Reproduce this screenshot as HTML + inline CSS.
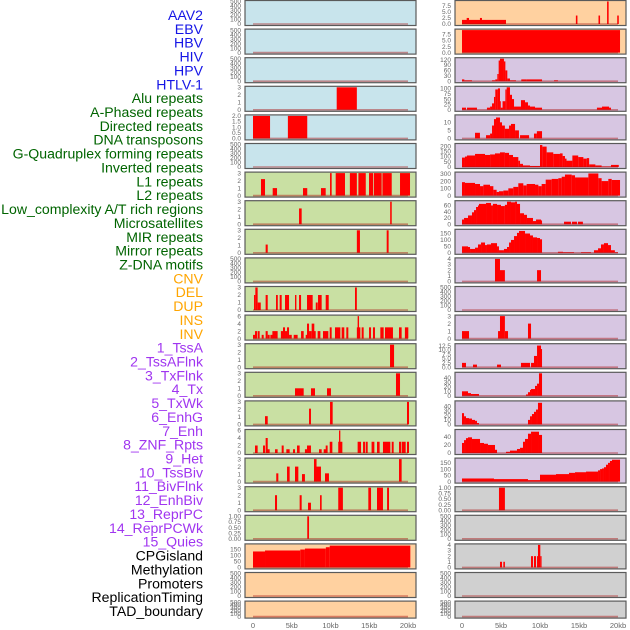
<!DOCTYPE html>
<html><head><meta charset="utf-8">
<style>
html,body{margin:0;padding:0;background:#fff;}
svg{display:block;font-family:"Liberation Sans",sans-serif;}
</style></head>
<body>
<svg id="chart" width="630" height="630" viewBox="0 0 630 630" xmlns="http://www.w3.org/2000/svg">
<g id="labels"></g>
<g id="panels"></g>
<g id="xaxis"></g>
</svg>
<script>
const labelNames = ["AAV2","EBV","HBV","HIV","HPV","HTLV-1","Alu repeats","A-Phased repeats","Directed repeats","DNA transposons","G-Quadruplex forming repeats","Inverted repeats","L1 repeats","L2 repeats","Low_complexity A/T rich regions","Microsatellites","MIR repeats","Mirror repeats","Z-DNA motifs","CNV","DEL","DUP","INS","INV","1_TssA","2_TssAFlnk","3_TxFlnk","4_Tx","5_TxWk","6_EnhG","7_Enh","8_ZNF_Rpts","9_Het","10_TssBiv","11_BivFlnk","12_EnhBiv","13_ReprPC","14_ReprPCWk","15_Quies","CPGisland","Methylation","Promoters","ReplicationTiming","TAD_boundary"];
const labelGroups = [6,13,5,15,5];
const groupColors = ["#1515e6","#006400","#ffa500","#a035f0","#000000"];

const T500 = [0,100,200,300,400,500];
const T3 = [0,1,2,3];
const T2 = [0,0.5,1,1.5,2];
const T6 = [0,2,4,6];
const T1 = [0,0.25,0.5,0.75,1];
const T4 = [0,1,2,3,4];
const T75 = [0,2.5,5,7.5];
const T120 = [0,30,60,90,120];
const T100 = [0,25,50,75,100];
const T10 = [0,5,10];
const T200 = [0,50,100,150,200];
const T300 = [0,100,200,300];
const T60 = [0,20,40,60];
const T150 = [0,50,100,150];
const T125 = [0,2.5,5,7.5,10,12.5];
const T40 = [0,10,20,30,40];
const T40b = [0,20,40];

const L_HIV = [[10.8,13.4,3]];
const L_HPV = [[0,2.2,2],[4.5,7.0,2]];
const L_row7 = [[1.03,1.55,2.2],[2.54,3.1,1],[6.45,7.0,1],[8.77,9.38,1],[9.94,10.15,3],[10.67,11.87,3],[12.5,13.4,3],[13.6,14.55,3],[14.97,15.5,3],[15.6,16.6,3],[16.7,17.9,3],[18.97,20.26,3]];
const L_row8 = [[5.94,6.28,2.1],[17.7,17.9,3]];
const L_row9 = [[1.63,1.9,1.1],[13.4,13.8,3],[17.25,17.5,3]];
const L_row11 = [[0.13,0.3,2],[0.3,0.6,3],[0.6,1.0,1],[1.63,1.9,2],[2.97,3.2,2],[3.44,3.7,2],[4.13,4.65,2],[5.42,5.6,2],[5.94,6.2,2],[6.97,7.7,2],[8.1,8.35,1],[8.39,8.86,2],[9.38,9.77,2],[13.16,13.4,3]];
const L_row12 = [[0,0.34,1],[0.26,0.52,2],[0.6,0.86,2],[1.12,1.38,1],[1.63,1.9,2],[1.9,2.15,1],[2.24,2.58,1],[2.5,3.18,2],[3.6,3.96,2],[3.87,4.13,3],[4.13,4.39,2],[4.39,4.65,3],[4.65,5.0,1],[5.25,5.76,1],[6.2,6.54,2],[6.8,7.05,1],[6.97,7.23,4],[7.23,7.57,2],[7.57,7.91,4],[7.83,8.09,2],[8.34,8.69,2],[9.03,9.72,2],[9.9,10.15,3],[10.58,11.27,3],[11.44,11.78,3],[12.04,12.3,3],[13.4,13.85,3],[13.5,13.68,6],[14.02,14.28,3],[14.97,15.23,3],[15.48,15.74,3],[16.43,16.86,3],[17.03,18.06,3],[18.84,19.18,3],[19.6,20.04,3]];
const L_row13 = [[17.68,18.2,3]];
const L_row14 = [[5.42,6.54,1],[7.48,8.0,1],[9.55,10.06,1],[18.45,18.97,3]];
const L_row15 = [[1.55,1.9,1.1],[7.23,7.48,2.1],[9.94,10.28,3],[19.87,20.13,3]];
const L_row16 = [[0.26,0.6,2],[1.29,1.55,2],[1.63,1.9,4],[1.8,2.15,1],[2.84,3.18,1],[3.7,3.96,2],[4.3,4.73,1],[5.16,5.42,1],[5.68,6.02,2],[6.7,6.97,1],[6.97,7.48,2],[8.52,8.86,1],[9.12,9.46,1],[9.38,9.63,2],[9.9,10.24,3],[11.1,11.27,6],[11.0,11.53,3],[13.5,13.94,3],[14.2,14.45,3],[14.54,14.8,3],[15.3,15.66,3],[16.0,16.34,3],[16.77,17.72,3],[17.9,18.15,3],[18.84,19.1,3],[19.18,19.7,3],[19.87,20.13,3]];
const L_row17 = [[3.0,3.27,1.1],[4.39,4.73,2],[5.42,5.85,2],[6.32,6.7,1],[7.87,8.2,3],[8.13,8.77,2],[9.29,9.8,1.1],[18.84,19.18,3]];
const L_row18 = [[2.84,3.1,2],[6.02,6.28,2],[7.1,7.48,1],[8.65,8.86,2],[11.0,11.6,3],[14.88,15.23,3],[16.0,16.77,3],[17.3,17.55,3]];
const L_row19 = [[7.0,7.23,1]];
const L_row20 = [[0,1.55,131],[1.55,6.1,139],[6.1,6.7,147],[6.7,9.4,155],[9.4,9.9,166],[9.9,20.3,179]];

const R_row1 = [[0,5.64,1.7],[0.6,0.9,2.5],[2.3,2.56,2.5],[14.6,14.8,3.5],[17.5,17.7,3.5],[18.6,18.8,9.3],[19.9,20.1,3.5]];
const R_row2 = [[0,20.26,9.3]];
const R_row3 = [[0,0.3,10],[0.3,1.28,5],[3.85,4.27,5],[4.27,4.53,10],[4.53,4.7,40],[4.7,4.87,115],[4.87,5.38,125],[5.38,5.56,110],[5.56,5.81,60],[5.81,6.15,15],[6.15,6.92,5],[7.6,8.29,10],[8.29,10.26,10],[11.8,12.3,5]];
const R_row4 = [[0,0.51,10],[0.64,1.92,10],[3.2,3.6,10],[3.6,3.85,15],[3.85,4.1,30],[4.1,4.27,60],[4.27,4.6,95],[4.6,4.87,100],[4.87,4.96,40],[4.96,5.2,10],[5.2,5.56,40],[5.56,5.73,95],[5.73,6.15,105],[6.15,6.41,70],[6.41,6.67,50],[6.67,7.56,15],[7.56,8.08,45],[8.08,8.46,35],[8.46,8.72,20],[8.72,9.36,15],[9.36,10.26,10],[17.3,17.95,10],[17.95,18.85,15],[18.85,19.1,10]];
const R_row5 = [[1.67,2.3,3.5],[3.08,3.6,2],[3.6,3.85,3],[3.85,4.1,8],[4.1,4.36,12],[4.36,4.87,13],[4.87,5.13,10],[5.13,5.5,8],[5.5,6.03,6],[6.03,6.28,8],[6.28,6.8,9],[6.8,7.3,5],[7.44,8.6,2],[9.23,9.6,3],[9.6,10.26,4.5]];
const R_row6 = [[0,0.38,90],[0.38,0.64,100],[0.64,1.67,110],[1.67,2.18,125],[2.18,2.95,125],[2.95,3.6,115],[3.6,4.23,120],[4.23,4.87,130],[4.87,5.5,140],[5.5,6.03,135],[6.03,6.54,115],[6.54,7.22,95],[7.22,7.44,60],[7.44,7.82,30],[7.82,8.72,15],[8.72,10.0,10],[10.0,10.3,210],[10.3,10.85,195],[10.85,11.7,140],[11.7,12.56,125],[12.56,12.9,130],[12.9,13.2,105],[13.2,13.4,80],[13.4,14.15,60],[14.15,14.9,110],[14.9,15.56,95],[15.56,16.0,80],[16.0,16.3,85],[16.3,17.1,25],[17.1,17.9,15],[17.9,19.1,5],[19.1,20.1,20]];
const R_row7 = [[0,0.38,185],[0.38,1.67,175],[1.67,2.31,160],[2.31,2.74,130],[2.74,3.59,150],[3.59,4.02,130],[4.02,4.44,80],[4.44,4.74,50],[4.74,5.3,60],[5.3,5.94,70],[5.94,6.58,100],[6.58,7.22,120],[7.22,7.86,170],[7.86,8.29,140],[8.29,9.36,160],[9.36,9.79,150],[9.79,10.21,130],[10.21,10.73,160],[10.73,11.5,220],[11.5,12.35,230],[12.35,12.78,240],[12.78,13.2,260],[13.2,14.06,290],[14.06,14.49,280],[14.49,16.2,250],[16.2,17.48,305],[17.48,17.9,240],[17.9,18.76,200],[18.76,19.19,230],[19.19,20.26,215]];
const R_row8 = [[0,0.26,15],[0.26,0.77,20],[0.77,1.28,28],[1.28,1.54,38],[1.54,1.8,45],[1.8,2.05,55],[2.05,2.18,60],[2.18,3.08,65],[3.08,3.72,68],[3.72,3.97,60],[3.97,4.49,65],[4.49,5.0,62],[5.0,5.5,58],[5.5,5.77,62],[5.77,6.28,72],[6.28,6.8,70],[6.8,7.05,72],[7.05,7.44,65],[7.44,7.95,35],[7.95,8.33,30],[8.33,9.1,20],[9.1,9.49,10],[9.49,10.13,15],[10.13,10.26,12],[13.08,13.97,8],[14.1,14.74,8],[14.87,15.5,8]];
const R_row9 = [[0,0.77,50],[0.77,1.03,45],[1.03,1.67,30],[1.67,2.05,40],[2.05,2.44,65],[2.44,2.95,80],[2.95,3.2,60],[3.2,3.72,65],[3.72,4.49,75],[4.49,4.74,50],[4.74,5.38,20],[5.38,5.77,30],[5.77,6.03,45],[6.03,6.28,80],[6.28,6.67,100],[6.67,7.05,130],[7.05,7.31,155],[7.31,8.08,170],[8.08,8.72,150],[8.72,9.1,135],[9.1,9.62,120],[9.62,10.0,115],[10.0,10.26,105],[12.3,12.95,8],[12.95,14.36,5],[15.26,16.54,5],[16.92,17.44,20],[17.44,17.82,35],[17.82,18.2,65],[18.2,18.72,75],[18.72,19.1,60],[19.1,19.6,20],[19.6,20.0,5]];
const R_row10 = [[4.23,4.87,4],[4.87,5.5,2],[9.62,10.13,2]];
const R_row12 = [[0,0.9,1],[4.62,4.87,1],[4.87,5.5,3],[5.5,5.9,1],[8.46,8.85,2]];
const R_row13 = [[0,0.51,2.5],[1.41,1.92,1.5],[4.49,5.0,1.5],[7.56,8.72,2.5],[8.85,9.23,2.5],[9.23,9.62,6.5],[9.62,10.13,12.5],[10.13,10.26,10.5]];
const R_row14 = [[0,0.77,10],[0.77,1.15,6],[1.15,2.18,4],[8.2,8.46,3],[8.46,8.72,8],[8.72,8.85,13],[8.85,9.36,15],[9.36,9.62,22],[9.62,9.87,27],[9.87,10.26,50]];
const R_row15 = [[0,0.26,25],[0.26,0.51,18],[0.51,0.9,14],[0.9,1.28,13],[1.28,1.67,10],[1.67,1.92,8],[1.92,2.18,3],[8.46,8.72,10],[8.72,8.97,18],[8.97,9.23,23],[9.23,9.49,28],[9.49,9.74,33],[9.74,10.26,48]];
const R_row16 = [[0,0.26,25],[0.26,0.51,32],[0.51,0.77,37],[0.77,1.28,39],[1.28,2.31,35],[2.31,2.82,25],[2.82,3.33,23],[3.33,4.23,20],[4.23,4.49,8],[5.64,6.15,3],[6.15,7.05,6],[7.05,7.44,10],[7.44,7.82,13],[7.82,8.08,28],[8.08,8.46,35],[8.46,8.85,48],[8.85,9.87,53],[9.87,10.26,45]];
const R_row17 = [[0,4.1,25],[4.1,8.46,20],[8.46,10.0,12],[10.0,12.05,55],[12.05,13.72,60],[13.72,14.49,70],[14.49,15.9,75],[15.9,17.44,80],[17.44,17.7,90],[17.7,17.95,100],[17.95,18.2,105],[18.2,18.46,115],[18.46,18.72,135],[18.72,18.97,150],[18.97,19.23,165],[19.23,20.26,175]];
const R_row18 = [[4.74,5.5,1]];
const R_row20 = [[4.87,5.13,1],[5.3,5.5,1],[8.85,9.1,2],[9.23,9.49,2],[9.62,9.83,2],[9.74,10.04,4],[10.04,10.2,2]];

const xTicks = [0,5,10,15,20];
const xTickLabels = ["0","5kb","10kb","15kb","20kb"];

const BLUE="#c8e4ec", GREEN="#c9e0a3", PEACH="#ffd1a0", LAV="#d7c6e2", GRAY="#d0d0d0";
function fmt1(v){return v.toFixed(1);} function fmt2(v){return v.toFixed(2);} function fmt0(v){return String(v);}
const E=[];
const leftPanels = [
 [BLUE,500,T500,fmt0,E],[BLUE,500,T500,fmt0,E],[BLUE,500,T500,fmt0,E],[BLUE,3,T3,fmt0,L_HIV],[BLUE,2,T2,fmt1,L_HPV],[BLUE,500,T500,fmt0,E],
 [GREEN,3,T3,fmt0,L_row7],[GREEN,3,T3,fmt0,L_row8],[GREEN,3,T3,fmt0,L_row9],[GREEN,500,T500,fmt0,E],[GREEN,3,T3,fmt0,L_row11],[GREEN,6,T6,fmt0,L_row12],
 [GREEN,3,T3,fmt0,L_row13],[GREEN,3,T3,fmt0,L_row14],[GREEN,3,T3,fmt0,L_row15],[GREEN,6,T6,fmt0,L_row16],[GREEN,3,T3,fmt0,L_row17],[GREEN,3,T3,fmt0,L_row18],
 [GREEN,1,T1,fmt2,L_row19],[PEACH,185,T150,fmt0,L_row20],[PEACH,500,T500,fmt0,E],[PEACH,500,T500,fmt0,E]];
const rightPanels = [
 [PEACH,9.3,T75,fmt1,R_row1],[PEACH,9.3,T75,fmt1,R_row2],[LAV,125,T120,fmt0,R_row3],[LAV,105,T100,fmt0,R_row4],[LAV,14,T10,fmt0,R_row5],[LAV,215,T200,fmt0,R_row6],
 [LAV,310,T300,fmt0,R_row7],[LAV,72,T60,fmt0,R_row8],[LAV,175,T150,fmt0,R_row9],[LAV,4,T4,fmt0,R_row10],[LAV,500,T500,fmt0,E],[LAV,3,T3,fmt0,R_row12],
 [LAV,13,T125,fmt1,R_row13],[LAV,50,T40,fmt0,R_row14],[LAV,50,T40,fmt0,R_row15],[LAV,56,T40b,fmt0,R_row16],[LAV,180,T150,fmt0,R_row17],[GRAY,1,T1,fmt2,R_row18],
 [GRAY,500,T500,fmt0,E],[GRAY,4,T4,fmt0,R_row20],[GRAY,500,T500,fmt0,E],[GRAY,500,T500,fmt0,E]];

const NS="http://www.w3.org/2000/svg";
function mk(tag,attrs,parent){const e=document.createElementNS(NS,tag);for(const k in attrs)e.setAttribute(k,attrs[k]);parent.appendChild(e);return e;}

const lg=document.getElementById('labels');
let gi=0,cnt=0;
labelNames.forEach((name,i)=>{
  if(cnt>=labelGroups[gi]){gi++;cnt=0;}
  cnt++;
  const t=mk('text',{x:203,y:20+i*13.86,'text-anchor':'end','font-size':14.1,fill:groupColors[gi]},lg);
  t.textContent=name;
  
  
});

const cols=[{x0:245,x1:416,d0:253,d1:408,panels:leftPanels,name:'left'},{x0:455,x1:626,d0:462,d1:618,panels:rightPanels,name:'right'}];
const pg=document.getElementById('panels');
cols.forEach(col=>{
  const xs=kb=>col.d0+(col.d1-col.d0)*kb/20;
  col.panels.forEach((p,r)=>{
    const [bg,ymax,ticks,fmt,data]=p;
    const top=0.5+r*28.6, h=(r===21?17:25);
    const g=mk('g',{},pg);
    
    
    mk('rect',{x:col.x0,y:top,width:col.x1-col.x0,height:h,fill:bg},g);
    const yb=top+h-1.5, yt=top+1;
    const ys=v=>yb-(yb-yt)*v/ymax;
    data.forEach(d=>{
      const b=mk('rect',{x:xs(d[0]),y:ys(d[2]),width:Math.max(0.8,xs(d[1])-xs(d[0])),height:yb-ys(d[2]),fill:'#ff0000'},g);
      
      
    });
    mk('line',{x1:xs(0),x2:xs(20),y1:yb,y2:yb,stroke:'rgba(170,20,20,0.45)','stroke-width':1.6},g);
    mk('rect',{x:col.x0,y:top,width:col.x1-col.x0,height:h,fill:'none',stroke:'#5a5a5a','stroke-width':1.2},g);
    ticks.forEach(v=>{
      const t=mk('text',{x:col.x0-4,y:ys(v)+2.2,'text-anchor':'end','font-size':6.5,fill:'#666'},g);
      t.textContent=fmt(v);
      
      
    });
  });
  const xg=document.getElementById('xaxis');
  xTicks.forEach((v,i)=>{
    const t=mk('text',{x:xs(v),y:628,'text-anchor':'middle','font-size':7.5,fill:'#666'},xg);
    t.textContent=xTickLabels[i];
    
    
  });
});
</script>
</body></html>
